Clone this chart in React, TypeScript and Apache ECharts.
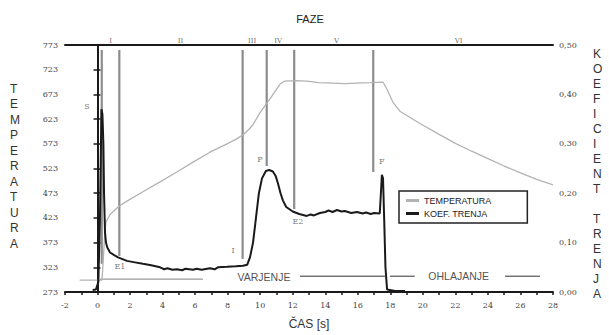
import React, { useEffect, useRef } from "react";
import * as echarts from "echarts";

const tempData: [number, number][] = [
  [-1.1, 297], [0.27, 297], [0.34, 330], [0.45, 395], [0.52, 415], [0.77, 430], [1.26, 445],
  [1.81, 457], [2.79, 476], [3.84, 496], [4.88, 516], [5.87, 536], [6.91, 556], [7.96, 573],
  [8.5, 582], [8.94, 591], [9.3, 602], [9.56, 612], [9.99, 636], [10.6, 664], [11.22, 694],
  [11.52, 700], [12.2, 701], [12.87, 700], [13.6, 697], [14.47, 696], [15.2, 695], [15.95, 696],
  [16.8, 697], [17.55, 698], [17.79, 684], [18.16, 657], [18.59, 639], [19.82, 614], [21, 592],
  [22, 574], [23, 558], [24, 543], [25, 528], [26, 514], [27, 501], [28, 490],
];

const frictionData: [number, number][] = [
  [-0.3, 0.004], [-0.1, 0.005], [0.05, 0.02], [0.15, 0.15], [0.24, 0.37], [0.3, 0.36],
  [0.36, 0.3], [0.4, 0.2], [0.46, 0.12], [0.52, 0.1], [0.6, 0.09], [0.77, 0.08], [1.0, 0.075],
  [1.26, 0.07], [1.81, 0.063], [2.3, 0.06], [2.79, 0.057], [3.3, 0.054], [3.84, 0.05],
  [4.1, 0.046], [4.3, 0.048], [4.6, 0.045], [4.88, 0.046], [5.2, 0.044], [5.4, 0.047],
  [5.87, 0.045], [6.1, 0.047], [6.4, 0.045], [6.91, 0.048], [7.2, 0.046], [7.4, 0.05],
  [7.96, 0.051], [8.5, 0.052], [8.94, 0.053], [9.2, 0.055], [9.37, 0.07],
  [9.56, 0.1], [9.74, 0.15], [9.92, 0.2], [10.11, 0.23], [10.35, 0.245], [10.55, 0.247],
  [10.78, 0.244], [10.95, 0.235], [11.09, 0.22], [11.25, 0.2], [11.4, 0.185], [11.6, 0.172],
  [12.0, 0.163], [12.4, 0.158], [12.87, 0.154], [13.1, 0.157], [13.3, 0.155], [13.67, 0.16],
  [14.0, 0.162], [14.2, 0.165], [14.45, 0.162], [14.72, 0.166], [15.0, 0.163], [15.2, 0.164],
  [15.6, 0.16], [15.95, 0.162], [16.3, 0.159], [16.5, 0.161], [16.8, 0.158], [17.0, 0.16], [17.35, 0.159],
  [17.42, 0.2], [17.48, 0.237], [17.55, 0.23], [17.62, 0.15], [17.7, 0.05], [17.8, 0.005],
  [18.3, 0.002], [18.9, 0.002],
];

// phase boundary lines: [x, topTemp, bottomTemp]
const phaseLines: [number, number, number][] = [
  [0.26, 763, 330], [1.34, 763, 346], [8.92, 763, 340], [10.4, 763, 528], [12.09, 763, 441], [16.95, 763, 516],
];

const phaseLabels: [number, string][] = [
  [0.8, "I"], [5.1, "II"], [9.5, "III"], [11.1, "IV"], [14.7, "V"], [22.2, "VI"],
];

const pointLabels: [number, number, string][] = [
  [-0.65, 649, "S"], [1.38, 324, "E1"], [8.33, 356, "I"], [9.99, 542, "P"], [12.32, 415, "E2"], [17.48, 538, "F"],
];

// process annotation lines [x1, x2, temp]
const grayProcessLine: [number, number, number] = [0.15, 6.48, 299];
const blackProcessLines: [number, number, number][] = [
  [12.44, 17.67, 305], [17.98, 19.5, 305], [25.05, 27.2, 305],
];
const processTexts: [number, number, string][] = [
  [10.23, 303, "VARJENJE"], [22.2, 305, "OHLAJANJE"],
];

const leftTitle = "TEMPERATURA";
const rightTitle = "KOEFICIENT TRENJA";

export default function App() {
  const ref = useRef<HTMLDivElement>(null);
  useEffect(() => {
    if (!ref.current) return;
    const chart = echarts.init(ref.current, undefined, { renderer: "svg" });
    const tickFont = { fontFamily: "DejaVu Serif", fontSize: 8, color: "#444" };
    const series: any[] = [];
    phaseLines.forEach((p, i) => {
      series.push({
        name: "ph" + i, type: "line", xAxisIndex: 0, yAxisIndex: 0, showSymbol: false, silent: true,
        data: [[p[0], p[1]], [p[0], p[2]]],
        lineStyle: { color: "#8c8c8c", width: 2.2 }, z: 1,
      });
    });
    series.push({
      name: "gp", type: "line", xAxisIndex: 0, yAxisIndex: 0, showSymbol: false, silent: true,
      data: [[grayProcessLine[0], grayProcessLine[2]], [grayProcessLine[1], grayProcessLine[2]]],
      lineStyle: { color: "#999", width: 1.2 }, z: 1,
    });
    blackProcessLines.forEach((p, i) => {
      series.push({
        name: "bp" + i, type: "line", xAxisIndex: 0, yAxisIndex: 0, showSymbol: false, silent: true,
        data: [[p[0], p[2]], [p[1], p[2]]],
        lineStyle: { color: "#333", width: 1 }, z: 1,
      });
    });
    series.push({
      name: "TEMPERATURA", type: "line", xAxisIndex: 0, yAxisIndex: 0, showSymbol: false,
      data: tempData, lineStyle: { color: "#b3b3b3", width: 1.3 }, itemStyle: { color: "#b3b3b3" }, z: 2,
    });
    series.push({
      name: "KOEF. TRENJA", type: "line", xAxisIndex: 0, yAxisIndex: 1, showSymbol: false,
      data: frictionData, lineStyle: { color: "#1a1a1a", width: 2 }, itemStyle: { color: "#1a1a1a" }, z: 3,
    });
    series.push({
      name: "phaseLbl", type: "scatter", xAxisIndex: 0, yAxisIndex: 0, symbolSize: 0, silent: true, clip: false,
      data: phaseLabels.map((p) => ({ value: [p[0], 773], name: p[1] })),
      label: { show: true, position: "top", distance: 1, formatter: "{b}", fontFamily: "DejaVu Serif", fontSize: 7, color: "#444" },
    });
    series.push({
      name: "ptLbl", type: "scatter", xAxisIndex: 0, yAxisIndex: 0, symbolSize: 0, silent: true,
      data: pointLabels.map((p) => ({ value: [p[0], p[1]], name: p[2] })),
      label: { show: true, position: "inside", formatter: "{b}", fontFamily: "DejaVu Serif", fontSize: 8, color: "#555" },
    });
    series.push({
      name: "procLbl", type: "scatter", xAxisIndex: 0, yAxisIndex: 0, symbolSize: 0, silent: true,
      data: processTexts.map((p) => ({ value: [p[0], p[1]], name: p[2] })),
      label: { show: true, position: "inside", formatter: "{b}", fontFamily: "Liberation Sans", fontSize: 10.5, color: "#222" },
    });

    chart.setOption({
      animation: false,
      backgroundColor: "#fff",
      title: { text: "FAZE", left: 305, top: 8, textAlign: "center", textStyle: { fontFamily: "Liberation Sans", fontSize: 11, fontWeight: "normal", color: "#222" } },
      grid: { left: 65, right: 56, top: 45, bottom: 42 },
      legend: {
        data: ["TEMPERATURA", "KOEF. TRENJA"], orient: "vertical", left: 399, top: 191,
        borderColor: "#222", borderWidth: 1.5, padding: [5, 36, 5, 7], itemGap: 4,
        icon: "rect", itemWidth: 13, itemHeight: 3,
        textStyle: { fontFamily: "Liberation Sans", fontSize: 9, color: "#222" },
        backgroundColor: "#fff",
      },
      xAxis: [
        {
          type: "value", min: -2, max: 28, interval: 1, position: "bottom",
          name: "ČAS [s]", nameLocation: "middle", nameGap: 26,
          nameTextStyle: { fontFamily: "Liberation Sans", fontSize: 12, color: "#333" },
          axisLine: { lineStyle: { color: "#1a1a1a", width: 2 } },
          axisTick: { show: true, length: 3, inside: false, lineStyle: { color: "#1a1a1a", width: 1.5 } },
          axisLabel: { ...tickFont, margin: 9, formatter: (v: number) => (Math.round(v) % 2 === 0 ? String(v) : "") },
          splitLine: { show: false },
        },
        {
          type: "value", min: -2, max: 28, position: "top",
          axisLine: { show: true, onZero: false, lineStyle: { color: "#1a1a1a", width: 2 } },
          axisTick: { show: false }, axisLabel: { show: false }, splitLine: { show: false },
        },
      ],
      yAxis: [
        {
          type: "value", min: 273, max: 773, interval: 50, position: "left",
          axisLine: { show: true, lineStyle: { color: "#1a1a1a", width: 2 } },
          axisTick: { show: true, length: 4, lineStyle: { color: "#1a1a1a", width: 1.5 } },
          axisLabel: { ...tickFont, margin: 7 },
          splitLine: { show: false },
        },
        {
          type: "value", min: 0, max: 0.5, interval: 0.05, position: "right",
          axisLine: { show: true, lineStyle: { color: "#1a1a1a", width: 2 } },
          axisTick: { show: true, length: 3, lineStyle: { color: "#1a1a1a", width: 1.5 } },
          axisLabel: {
            ...tickFont, margin: 6,
            formatter: (v: number) => {
              const k = Math.round(v * 100);
              return k % 10 === 0 ? (k / 100).toFixed(2).replace(".", ",") : "";
            },
          },
          splitLine: { show: false },
        },
      ],
      graphic: [
        {
          type: "text", left: 10, top: 81,
          style: { text: leftTitle.split("").join("\n"), fontFamily: "Liberation Sans", fontSize: 12, lineHeight: 15.5, fill: "#333", align: "center" },
        },
        {
          type: "text", left: 593, top: 46,
          style: { text: rightTitle.split("").join("\n"), fontFamily: "Liberation Sans", fontSize: 12, lineHeight: 15, fill: "#333", align: "center" },
        },
      ],
      series,
    });
    return () => chart.dispose();
  }, []);
  return <div ref={ref} style={{ width: 609, height: 335, position: "absolute", left: 0, top: 0 }} />;
}
